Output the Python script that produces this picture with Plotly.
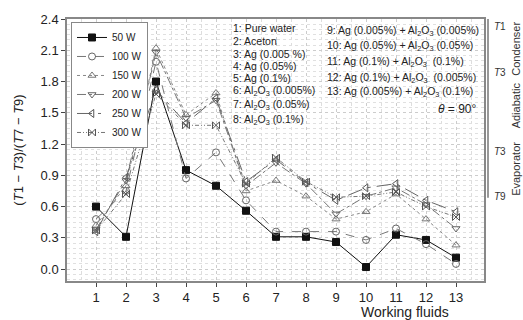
import plotly.graph_objects as go

# Working fluid index on the x axis
fluids = list(range(1, 14))

# Temperature-ratio (T1-T3)/(T7-T9) for each heat input
p50 = [0.60, 0.31, 1.80, 0.95, 0.80, 0.56, 0.31, 0.31, 0.26, 0.02, 0.33, 0.28, 0.11]
p100 = [0.48, 0.75, 1.99, 0.87, 1.12, 0.66, 0.36, 0.36, 0.36, 0.28, 0.39, 0.24, 0.05]
p150 = [0.42, 0.80, 2.12, 1.48, 1.69, 0.75, 0.85, 0.70, 0.48, 0.55, 0.72, 0.48, 0.23]
p200 = [0.38, 0.85, 2.08, 1.45, 1.62, 0.80, 1.02, 0.82, 0.53, 0.70, 0.78, 0.62, 0.39]
p250 = [0.36, 0.88, 1.72, 1.40, 1.64, 0.84, 1.05, 0.83, 0.66, 0.78, 0.82, 0.66, 0.55]
p300 = [0.37, 0.72, 1.68, 1.38, 1.38, 0.82, 1.07, 0.84, 0.69, 0.70, 0.74, 0.60, 0.50]

series_names = ["50 W", "100 W", "150 W", "200 W", "250 W", "300 W"]
x_ticks = list(range(1, 14))
y_ticks = [0.0, 0.3, 0.6, 0.9, 1.2, 1.5, 1.8, 2.1, 2.4]

fluid_labels_a = [
    "1: Pure water", "2: Aceton", "3: Ag (0.005 %)", "4: Ag (0.05%)", "5: Ag (0.1%)",
    "6: Al<sub>2</sub>O<sub>3</sub> (0.005%)", "7: Al<sub>2</sub>O<sub>3</sub> (0.05%)",
    "8: Al<sub>2</sub>O<sub>3</sub> (0.1%)",
]
fluid_labels_b = [
    "9: Ag (0.005%) + Al<sub>2</sub>O<sub>3</sub> (0.005%)",
    "10: Ag (0.05%) + Al<sub>2</sub>O<sub>3</sub> (0.05%)",
    "11: Ag (0.1%) + Al<sub>2</sub>O<sub>3</sub>  (0.1%)",
    "12: Ag (0.1%) + Al<sub>2</sub>O<sub>3</sub>  (0.005%)",
    "13: Ag (0.005%) + Al<sub>2</sub>O<sub>3</sub> (0.1%)",
]

styles = [
    dict(color="#111111", dash="solid", symbol="square", mcolor="#111111"),
    dict(color="#777777", dash="dash", symbol="circle-open", mcolor="#666666"),
    dict(color="#888888", dash="dot", symbol="triangle-up-open", mcolor="#777777"),
    dict(color="#777777", dash="dashdot", symbol="triangle-down-open", mcolor="#666666"),
    dict(color="#666666", dash="longdashdot", symbol="triangle-left-open", mcolor="#555555"),
    dict(color="#777777", dash="4px,2px,1px,2px,1px,2px", symbol="bowtie-open", mcolor="#555555"),
]

fig = go.Figure()
for name, vals, st in zip(series_names, [p50, p100, p150, p200, p250, p300], styles):
    fig.add_trace(go.Scatter(
        x=fluids, y=vals, name=name, mode="lines+markers",
        line=dict(color=st["color"], width=1, dash=st["dash"]),
        marker=dict(symbol=st["symbol"], size=7, color=st["mcolor"],
                    line=dict(color=st["mcolor"], width=1)),
    ))

L, R, T, B = 67, 39, 17, 39
PW, PH = 523 - L - R, 320 - T - B


def px(x):
    return (x - L) / PW


def py(y):
    return (320 - B - y) / PH


font = "Liberation Sans, Arial, sans-serif"
ann = []
for lbl, yy in zip(fluid_labels_a, [26, 39, 52, 64, 76, 90, 104, 119]):
    ann.append(dict(x=px(231), y=py(yy), text=lbl, xanchor="left", yanchor="middle",
                    font=dict(size=10.5, color="#222")))
for lbl, yy in zip(fluid_labels_b, [29, 44, 60, 76, 91]):
    ann.append(dict(x=px(325), y=py(yy), text=lbl, xanchor="left", yanchor="middle",
                    font=dict(size=10.5, color="#222")))
ann.append(dict(x=px(479), y=py(108), text="<i>θ</i> = 90°", xanchor="right", yanchor="middle",
                font=dict(size=12, color="#222")))
# Thermocouple positions along the pipe
for lbl, yy in [("<i>T</i>1", 25), ("<i>T</i>3", 71), ("<i>T</i>3", 151), ("<i>T</i>9", 196)]:
    ann.append(dict(x=px(492), y=py(yy), text=lbl, xanchor="left", yanchor="middle",
                    font=dict(size=10, color="#333")))
for lbl, yy in [("Condenser", 47), ("Adiabatic", 104), ("Evaporator", 168)]:
    ann.append(dict(x=px(516), y=py(yy), text=lbl, textangle=-90, xanchor="center",
                    yanchor="middle", font=dict(size=11, color="#333")))
ann.append(dict(x=px(405), y=py(312), text="Working fluids", xanchor="center", yanchor="middle",
                font=dict(size=14, color="#222")))
for a in ann:
    a.update(xref="paper", yref="paper", showarrow=False)

fig.update_layout(
    width=523, height=320,
    margin=dict(l=L, r=R, t=T, b=B),
    paper_bgcolor="white", plot_bgcolor="white",
    font=dict(family=font, color="#222"),
    annotations=ann,
    shapes=[dict(type="line", xref="paper", yref="paper", x0=px(488), x1=px(488),
                 y0=1, y1=py(197), line=dict(color="#777", width=1.5))],
    legend=dict(x=px(71), y=py(20), xanchor="left", yanchor="top",
                bgcolor="white", bordercolor="#888", borderwidth=1,
                font=dict(size=10, color="#222"), itemwidth=30, tracegroupgap=0),
    xaxis=dict(range=[0.033, 13.933], tickvals=x_ticks, ticks="outside", ticklen=4,
               tickfont=dict(size=13, color="#222"), showline=True, linecolor="#888",
               linewidth=1.5, mirror=True, zeroline=False,
               showgrid=True, gridcolor="#cccccc", griddash="dot", gridwidth=1,
               minor=dict(dtick=0.5, tick0=0.5, showgrid=True, gridcolor="#dddddd",
                          griddash="dot")),
    yaxis=dict(range=[-0.114, 2.4], tickvals=y_ticks, tickformat=".1f", ticks="outside",
               ticklen=4, tickfont=dict(size=13, color="#222"), showline=True,
               linecolor="#888", linewidth=1.5, mirror=True, zeroline=False,
               showgrid=True, gridcolor="#cccccc", griddash="dot", gridwidth=1,
               minor=dict(dtick=0.05, tick0=0, showgrid=True, gridcolor="#e0e0e0",
                          griddash="dot"),
               title=dict(text="(<i>T</i>1 − <i>T</i>3)/(<i>T</i>7 − <i>T</i>9)",
                          font=dict(size=13, color="#222"), standoff=14)),
)

fig.write_html("out.html")
